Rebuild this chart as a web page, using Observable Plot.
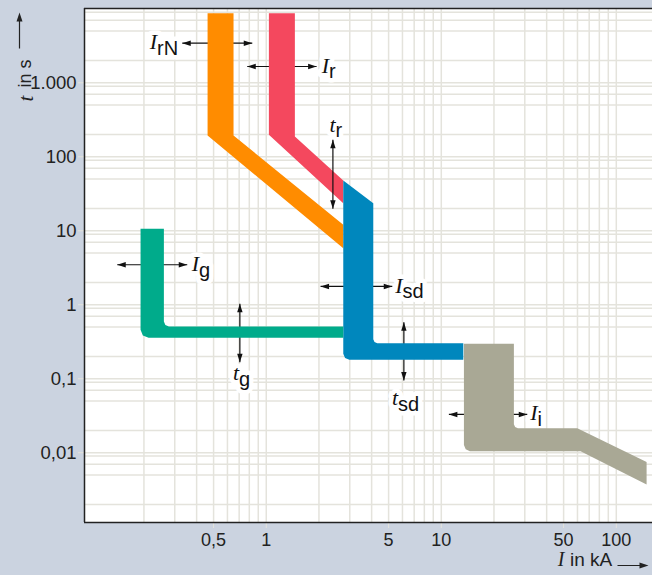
<!DOCTYPE html>
<html><head><meta charset="utf-8">
<script src="https://cdn.jsdelivr.net/npm/d3@7"></script>
<script src="https://cdn.jsdelivr.net/npm/@observablehq/plot@0.6"></script>
<style>html,body{margin:0;padding:0;background:#cbd3e0;}</style>
</head><body><div id="chart"></div>
<script>
// Axes (current I in kA, time t in s)
const xDomain = [0.0915, 161];
const yDomain = [0.00114, 10100];
const xTicks = [0.5, 1, 5, 10, 50, 100];
const xTickLabels = ["0,5", "1", "5", "10", "50", "100"];
const yTicks = [0.01, 0.1, 1, 10, 100, 1000];
const yTickLabels = ["0,01", "0,1", "1", "10", "100", "1.000"];
const xGrid = [0.2,0.3,0.4,0.5,0.6,0.7,0.8,0.9, 1,2,3,4,5,6,7,8,9, 10,20,30,40,50,60,70,80,90, 100];
const yGrid = [0.002,0.005,0.007,0.009, 0.01,0.02,0.05,0.07,0.09, 0.1,0.2,0.5,0.7,0.9,
               1,2,5,7,9, 10,20,50,70,90, 100,200,500,700,900, 1000,2000,5000,7000,9000];

// Tripping bands: current (kA) and time (s) outline points
const irnI = [0.462, 0.650, 0.650, 2.754, 2.754, 0.462];
const irnT = [8720, 8720, 194, 12.05, 5.82, 194];
const irI  = [1.035, 1.457, 1.457, 2.754, 2.754, 1.035];
const irT  = [8720, 8720, 188, 47.8, 23.6, 198];
const isdI = [2.754, 4.087, 4.087, 4.153, 4.308, 13.36, 13.36, 2.981, 2.820, 2.754];
const isdT = [47.8, 23.6, 0.3428, 0.3144, 0.3029, 0.3029, 0.1806, 0.1806, 0.1910, 0.2177];
const igI  = [0.1913, 0.260, 0.260, 0.2651, 0.2776, 2.754, 2.754, 0.2126, 0.1972, 0.1913];
const igT  = [10.64, 10.64, 0.5946, 0.5333, 0.5088, 0.5088, 0.358, 0.358, 0.3847, 0.4594];
const iiI  = [13.47, 25.99, 25.99, 26.41, 27.40, 59.86, 148.97, 148.97, 62.5, 14.57, 13.79, 13.47];
const iiT  = [0.2972, 0.2972, 0.02434, 0.02232, 0.0215, 0.0215, 0.007464, 0.003728, 0.01051, 0.01051, 0.01111, 0.01267];
const bandNames  = ["IrN", "Ir", "Isd", "Ig", "Ii"];
const bandColors = ["#ff8c00", "#f4485e", "#0087bd", "#00ab8b", "#a9a895"];

// Setting arrows
const hArrowFrom = [0.3311, 0.7786, 0.1408, 2.043, 11.05];
const hArrowTo   = [0.8318, 1.939, 0.3536, 5.248, 30.99];
const hArrowT    = [3428, 1661, 3.472, 1.767, 0.03293];
const vArrowI      = [2.403, 0.7066, 6.113];
const vArrowTop    = [169.7, 1.032, 0.5818];
const vArrowBottom = [19.83, 0.1676, 0.0948];

// Labels
const labelMain = ["I", "I", "t", "I", "t", "I", "t", "I"];
const labelSub  = ["rN", "r", "r", "g", "g", "sd", "sd", "i"];
const labelI    = [0.2377, 2.285, 2.489, 0.413, 0.699, 6.009, 5.664, 35.5];
const labelT    = [3428, 1661, 264.8, 3.472, 0.1168, 1.767, 0.05367, 0.03293];

const bands = [[irnI, irnT], [irI, irT], [isdI, isdT], [igI, igT], [iiI, iiT]];
const bandRows = bands.map(([I, T]) => I.map((v, k) => ({i: v, t: T[k]})));
const hArrows = hArrowFrom.map((v, k) => ({i1: v, i2: hArrowTo[k], t: hArrowT[k]}));
const vArrows = vArrowI.map((v, k) => ({i: v, t1: vArrowTop[k], t2: vArrowBottom[k]}));
const labels = labelMain.map((m, k) => ({main: m, sub: labelSub[k], i: labelI[k], t: labelT[k]}));

const headSymbol = {draw(ctx) { ctx.moveTo(0, 0); ctx.lineTo(-2.7, 8.5); ctx.lineTo(2.7, 8.5); ctx.closePath(); }};
function axisArrowSymbol(len) {
  return {draw(ctx) {
    ctx.moveTo(0, 0); ctx.lineTo(-3, 9); ctx.lineTo(-0.6, 9); ctx.lineTo(-0.6, len);
    ctx.lineTo(0.6, len); ctx.lineTo(0.6, 9); ctx.lineTo(3, 9); ctx.closePath();
  }};
}
const SANS = "'Liberation Sans', Arial, Helvetica, sans-serif";
const SERIF = "'Liberation Serif', 'Times New Roman', serif";
const GRID = "#e4e3dc";

function arrowMarks(hs, vs) {
  return [
    Plot.link(hs, {x1: "i1", x2: "i2", y1: "t", y2: "t", stroke: "#111", strokeWidth: 1.2}),
    Plot.dot(hs, {x: "i1", y: "t", symbol: headSymbol, rotate: -90, fill: "#111", stroke: "none"}),
    Plot.dot(hs, {x: "i2", y: "t", symbol: headSymbol, rotate: 90, fill: "#111", stroke: "none"}),
    Plot.link(vs, {x1: "i", x2: "i", y1: "t1", y2: "t2", stroke: "#111", strokeWidth: 1.2}),
    Plot.dot(vs, {x: "i", y: "t1", symbol: headSymbol, rotate: 0, fill: "#111", stroke: "none"}),
    Plot.dot(vs, {x: "i", y: "t2", symbol: headSymbol, rotate: 180, fill: "#111", stroke: "none"})
  ];
}
function labelMarks(halo) {
  const paint = halo ? {fill: "white", stroke: "white", strokeWidth: 9, strokeLinejoin: "round"} : {fill: "#111"};
  return [
    Plot.text(labels, {x: "i", y: "t", text: "main", textAnchor: "end", dy: -1, fontFamily: SERIF, fontStyle: "italic", fontSize: 22, ...paint}),
    Plot.text(labels, {x: "i", y: "t", text: "sub", textAnchor: "start", dy: 5.5, fontFamily: SANS, fontSize: 20, ...paint})
  ];
}

const chart = Plot.plot({
  width: 652, height: 575,
  marginLeft: 84, marginRight: 0, marginTop: 8, marginBottom: 53,
  style: {background: "#cbd3e0", fontFamily: SANS, fontSize: "18px", color: "#222"},
  x: {type: "log", domain: xDomain, axis: null},
  y: {type: "log", domain: yDomain, axis: null},
  marks: [
    Plot.frame({fill: "white", stroke: "none"}),
    Plot.ruleX(xGrid, {stroke: GRID, strokeWidth: 1.5}),
    Plot.ruleY(yGrid, {stroke: GRID, strokeWidth: 1.5}),
    ...labelMarks(true),
    ...arrowMarks(hArrows, vArrows.slice(1)),
    ...bandRows.map((rows, k) => Plot.line(rows, {x: "i", y: "t", fill: bandColors[k], stroke: "none", curve: "linear-closed"})),
    ...arrowMarks([], vArrows.slice(0, 1)),
    ...labelMarks(false),
    Plot.axisX({ticks: xTicks, tickFormat: () => "", tickSize: 6, stroke: GRID, label: null}),
    Plot.text(xTicks, {x: d => d, text: (d, i) => xTickLabels[i], frameAnchor: "bottom", lineAnchor: "top", dy: 10.5, fontFamily: SANS, fontSize: 18, fill: "#222"}),
    Plot.axisY({ticks: yTicks, tickFormat: d => yTickLabels[yTicks.indexOf(d)], tickSize: 6, tickPadding: 2, stroke: GRID, color: "#222", fontSize: 18.5, label: null}),
    Plot.ruleX([xDomain[0]], {stroke: "#222", strokeWidth: 1.5}),
    Plot.ruleY(yDomain, {stroke: "#222", strokeWidth: 1.5}),
    // axis titles
    Plot.text(["I"], {text: d => d, frameAnchor: "bottom-right", textAnchor: "end", dx: -88, dy: 43.5, fontFamily: SERIF, fontStyle: "italic", fontSize: 20, fill: "#222"}),
    Plot.text(["in kA"], {text: d => d, frameAnchor: "bottom-right", textAnchor: "end", dx: -40.3, dy: 43.8, fontFamily: SANS, fontSize: 19, fill: "#222"}),
    Plot.dot([0], {frameAnchor: "bottom-right", dx: -4, dy: 43, symbol: axisArrowSymbol(31), rotate: 90, fill: "#222", stroke: "none"}),
    Plot.text(["t"], {text: d => d, frameAnchor: "top-left", textAnchor: "start", rotate: -90, dx: -66.8, dy: 93, fontFamily: SERIF, fontStyle: "italic", fontSize: 21, fill: "#222"}),
    Plot.text(["in s"], {text: d => d, frameAnchor: "top-left", textAnchor: "start", rotate: -90, dx: -66.6, dy: 79, fontFamily: SANS, fontSize: 18, fill: "#222"}),
    Plot.dot([0], {frameAnchor: "top-left", dx: -65, dy: 4, symbol: axisArrowSymbol(36), rotate: 0, fill: "#222", stroke: "none"})
  ]
});
document.getElementById("chart").appendChild(chart);
</script>
</body></html>
